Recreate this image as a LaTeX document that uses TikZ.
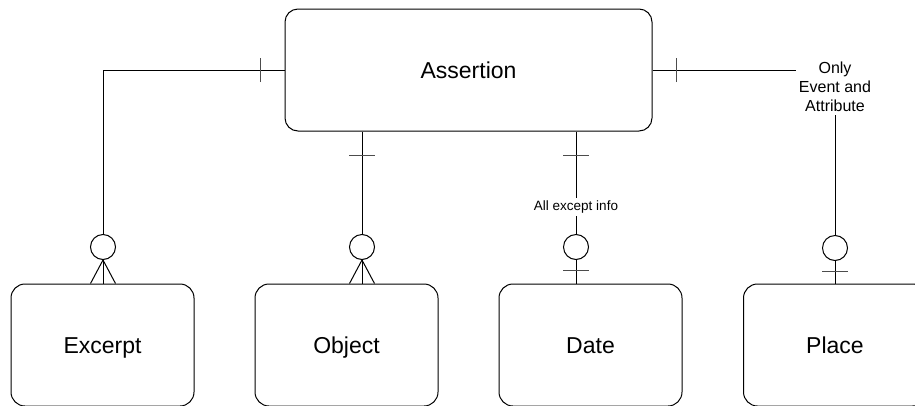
\documentclass[tikz,border=0pt]{standalone}
\usepackage{fontspec}
\setmainfont{Liberation Sans}
\usetikzlibrary{calc}
\begin{document}
\begin{tikzpicture}[x=1pt,y=-1pt,
  entity/.style={draw=black,line width=1pt,rounded corners=13pt,inner sep=0pt,
    text height=16.5pt,text depth=0pt,font=\fontsize{23}{27}\selectfont},
  small/.style={draw=black,line width=1pt,rounded corners=14pt,inner sep=0pt,
    minimum width=183pt,minimum height=122pt,
    text height=16.5pt,text depth=0pt,font=\fontsize{23}{27}\selectfont},
  opt/.style={circle,draw=black,line width=1pt,fill=white,minimum size=25pt,inner sep=0pt},
  conn/.style={line width=1pt,draw=black},
  tickmark/.style={line width=1.2pt,draw=black!70},
  lbl/.style={inner sep=3pt,align=center}]
\useasboundingbox (0,0) rectangle (915,405);
\clip (0,0) rectangle (915,405);
% entities
\node[entity,minimum width=367pt,minimum height=122pt] (assertion) at (468.5,70) {Assertion};
\node[small] (excerpt) at (102.5,345) {Excerpt};
\node[small] (object) at (346.5,345) {Object};
\node[small] (date) at (590.5,345) {Date};
\node[small] (place) at (835,345) {Place};
% optional circles
\node[opt] (ec) at (103,247) {};
\node[opt] (oc) at (362,247) {};
\node[opt] (dc) at (576,247) {};
\node[opt] (pc) at (835,248) {};
% labels
\node[lbl,font=\fontsize{13.5}{16}\selectfont] (dlabel) at (576,207) {All except info};
\node[lbl,font=\fontsize{16}{19}\selectfont] (plabel) at (835,87) {Only\\Event and\\Attribute};
% Assertion -- Excerpt
\draw[conn] (assertion.west) -| (ec.north);
\draw[tickmark] ([xshift=-24pt,yshift=-12pt]assertion.west) -- ([xshift=-24pt,yshift=12pt]assertion.west);
\draw[conn] (ec.south) -- (ec.south |- excerpt.north);
\draw[conn] (ec.south) -- ([xshift=-12.5pt]ec.south |- excerpt.north);
\draw[conn] (ec.south) -- ([xshift=12.5pt]ec.south |- excerpt.north);
% Assertion -- Object
\draw[conn] (assertion.south -| oc) -- (oc.north);
\draw[tickmark] ([xshift=-13pt,yshift=-24pt]assertion.south -| oc) -- ([xshift=13pt,yshift=-24pt]assertion.south -| oc);
\draw[conn] (oc.south) -- (oc.south |- object.north);
\draw[conn] (oc.south) -- ([xshift=-12.5pt]oc.south |- object.north);
\draw[conn] (oc.south) -- ([xshift=12.5pt]oc.south |- object.north);
% Assertion -- Date
\draw[conn] (assertion.south -| dc) -- (dlabel.north);
\draw[tickmark] ([xshift=-13pt,yshift=-24pt]assertion.south -| dc) -- ([xshift=13pt,yshift=-24pt]assertion.south -| dc);
\draw[conn] (dlabel.south) -- (dc.north);
\draw[conn] (dc.south) -- (dc.south |- date.north);
\draw[tickmark] ([xshift=-13pt,yshift=13pt]dc.south |- date.north) -- ([xshift=13pt,yshift=13pt]dc.south |- date.north);
% Assertion -- Place
\draw[conn] (assertion.east) -- (assertion.east -| plabel.west);
\draw[tickmark] ([xshift=24pt,yshift=-12pt]assertion.east) -- ([xshift=24pt,yshift=12pt]assertion.east);
\draw[conn] (plabel.south) -- (pc.north);
\draw[conn] (pc.south) -- (pc.south |- place.north);
\draw[tickmark] ([xshift=-13pt,yshift=12pt]pc.south |- place.north) -- ([xshift=13pt,yshift=12pt]pc.south |- place.north);
\end{tikzpicture}
\end{document}
